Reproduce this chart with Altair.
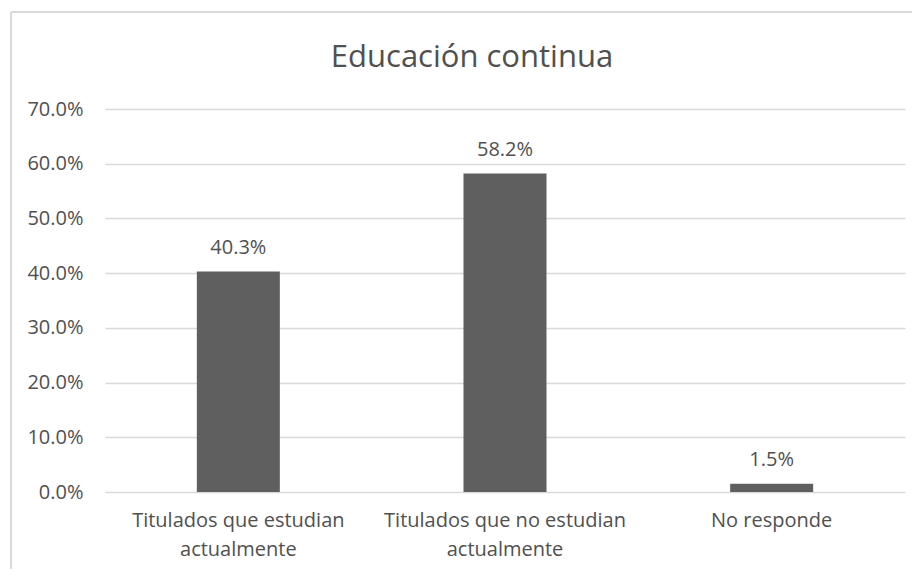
import altair as alt
import pandas as pd

categories = ["Titulados que estudian\nactualmente",
              "Titulados que no estudian\nactualmente",
              "No responde"]
values = [0.403, 0.582, 0.015]
y_ticks = [0.0, 0.1, 0.2, 0.3, 0.4, 0.5, 0.6, 0.7]
title_text = "Educación continua"

df = pd.DataFrame({"cat": categories, "val": values})

FONT = "Open Sans"
TXT = "#505050"
GRID = "#d9d9d9"

base = alt.Chart(df)

bars = base.mark_bar(color="#5f5f5f", size=83).encode(
    x=alt.X("cat:N", sort=categories, title=None,
            scale=alt.Scale(paddingInner=0, paddingOuter=0),
            axis=alt.Axis(labelExpr="split(datum.label, '\\n')",
                          labelAngle=0, labelFont=FONT, labelFontSize=20,
                          labelColor=TXT, labelLineHeight=29, labelPadding=18,
                          labelLimit=0,
                          domain=False, ticks=False, grid=False)),
    y=alt.Y("val:Q", title=None,
            scale=alt.Scale(domain=[0, 0.7], nice=False),
            axis=alt.Axis(values=y_ticks, format=".1%", labelFont=FONT,
                          labelFontSize=20, labelColor=TXT, labelPadding=22,
                          domain=False, ticks=False, grid=True,
                          gridColor=GRID, gridWidth=1.5)),
)

labels = base.mark_text(font=FONT, fontSize=20, color=TXT,
                        baseline="alphabetic", dy=-18).encode(
    x=alt.X("cat:N", sort=categories),
    y="val:Q",
    text=alt.Text("val:Q", format=".1%"),
)

frame_left = alt.Chart(df).mark_rule(color=GRID, strokeWidth=1.5).encode(
    x=alt.value(-94), y=alt.value(-97), y2=alt.value(480))
frame_top = alt.Chart(df).mark_rule(color=GRID, strokeWidth=1.5).encode(
    x=alt.value(-94), x2=alt.value(900), y=alt.value(-97))

chart = alt.layer(frame_left, frame_top, bars, labels).properties(
    width=800, height=383,
    autosize=alt.AutoSizeParams(type="none"),
    padding={"left": 97, "top": 101, "right": 7, "bottom": 77},
    title=alt.TitleParams(title_text, font=FONT, fontSize=31, color=TXT,
                          fontWeight="normal", anchor="middle", dx=-33,
                          baseline="alphabetic", offset=-87),
).configure_view(stroke=None)

chart.save("out.html", embed_options={"renderer": "svg", "actions": False})
